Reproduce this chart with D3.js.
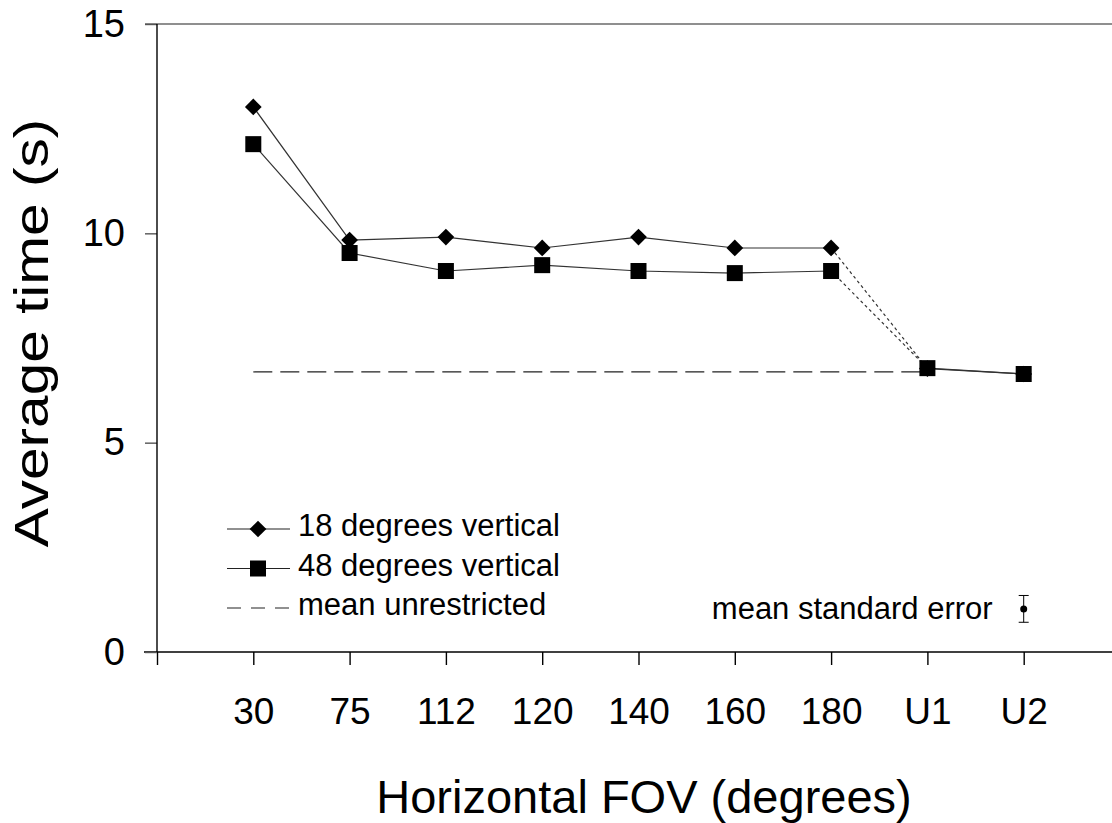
<!DOCTYPE html>
<html>
<head>
<meta charset="utf-8">
<script src="https://cdn.jsdelivr.net/npm/d3@7"></script>
<style>
  body { margin: 0; background: #fff; }
  text { font-family: "Liberation Sans", Arial, sans-serif; fill: #000; }
</style>
</head>
<body>
<div id="chart"></div>
<script>
// Data
const categories = ["30", "75", "112", "120", "140", "160", "180", "U1", "U2"]
const deg18 = [13.02, 9.84, 9.91, 9.65, 9.91, 9.65, 9.65, 6.77, 6.64]
const deg48 = [12.13, 9.53, 9.10, 9.24, 9.10, 9.05, 9.10, 6.78, 6.64]
const meanUnrestricted = 6.69
const yTicks = [0, 5, 10, 15]
const seCenter = 1.03
const seHalf = 0.32
const legendLabels = ["18 degrees vertical", "48 degrees vertical", "mean unrestricted"]

// Dimensions
const width = 1112, height = 823
const svg = d3.select('#chart').append('svg')
  .attr('width', width)
  .attr('height', height)

// Scales (index -1 is the y-axis position)
const xScale = d3.scaleLinear().domain([-1, 9]).range([157, 1120])
const yScale = d3.scaleLinear().domain([0, 15]).range([652, 24])

// top frame line
svg.append('line')
  .attr('x1', xScale(-1) - 12).attr('x2', width)
  .attr('y1', yScale(15)).attr('y2', yScale(15))
  .attr('stroke', '#6a6a6a').attr('stroke-width', 1.6)

// x axis
const xAxis = d3.axisBottom(xScale)
  .tickValues(d3.range(-1, 9))
  .tickSize(13)
  .tickPadding(33)
  .tickFormat(i => categories[i] || '')
const gx = svg.append('g')
  .attr('transform', `translate(0, ${yScale(0)})`)
  .call(xAxis)
gx.select('.domain').remove()
gx.selectAll('.tick line').attr('stroke', '#000').attr('stroke-width', 1.4)
gx.selectAll('.tick text').attr('font-size', 37).attr('fill', '#000')
svg.append('line')
  .attr('x1', xScale(-1) - 13).attr('x2', width)
  .attr('y1', yScale(0)).attr('y2', yScale(0))
  .attr('stroke', '#000').attr('stroke-width', 1.4)

// y axis
const yAxis = d3.axisLeft(yScale)
  .tickValues(yTicks)
  .tickSize(12)
  .tickPadding(20)
const gy = svg.append('g')
  .attr('transform', `translate(${xScale(-1)}, 0)`)
  .call(yAxis)
gy.select('.domain').remove()
gy.selectAll('.tick line').attr('stroke', '#555').attr('stroke-width', 1.4)
gy.selectAll('.tick text').attr('font-size', 38).attr('fill', '#000')
svg.append('line')
  .attr('x1', xScale(-1)).attr('x2', xScale(-1))
  .attr('y1', yScale(15)).attr('y2', yScale(0))
  .attr('stroke', '#000').attr('stroke-width', 1.4)

// axis titles
svg.append('text')
  .attr('x', 644)
  .attr('y', 813)
  .attr('text-anchor', 'middle')
  .attr('font-size', 47)
  .text('Horizontal FOV (degrees)')
svg.append('text')
  .attr('transform', `translate(48, 333) rotate(-90) scale(1.22, 1)`)
  .attr('text-anchor', 'middle')
  .attr('font-size', 48)
  .text('Average time (s)')

// mean unrestricted dashed line
svg.append('line')
  .attr('x1', xScale(0)).attr('x2', xScale(7))
  .attr('y1', yScale(meanUnrestricted)).attr('y2', yScale(meanUnrestricted))
  .attr('stroke', '#222').attr('stroke-width', 1.2)
  .attr('stroke-dasharray', '19,8')

// series lines
const line = d3.line()
  .x((d, i) => xScale(i))
  .y(d => yScale(d))

function drawSeries(values) {
  svg.append('path')
    .datum(values.slice(0, 7))
    .attr('d', line)
    .attr('fill', 'none').attr('stroke', '#333').attr('stroke-width', 1.2)
  // dotted link 180 -> U1
  svg.append('line')
    .attr('x1', xScale(6)).attr('y1', yScale(values[6]))
    .attr('x2', xScale(7)).attr('y2', yScale(values[7]))
    .attr('stroke', '#333').attr('stroke-width', 1.2)
    .attr('stroke-dasharray', '3,3')
  svg.append('line')
    .attr('x1', xScale(7)).attr('y1', yScale(values[7]))
    .attr('x2', xScale(8)).attr('y2', yScale(values[8]))
    .attr('stroke', '#333').attr('stroke-width', 1.2)
}
drawSeries(deg18)
drawSeries(deg48)

const diamond = d3.symbol().type(d3.symbolSquare).size(140)
svg.selectAll('.dia')
  .data(deg18)
  .join('path')
  .attr('class', 'dia')
  .attr('d', diamond)
  .attr('transform', (d, i) => `translate(${xScale(i)}, ${yScale(d)}) rotate(45)`)
  .attr('fill', '#000')

svg.selectAll('.sq')
  .data(deg48)
  .join('rect')
  .attr('class', 'sq')
  .attr('x', (d, i) => xScale(i) - 8)
  .attr('y', d => yScale(d) - 8)
  .attr('width', 16).attr('height', 16)
  .attr('fill', '#000')

// legend
const legend = svg.append('g').attr('transform', 'translate(227, 529)')
const rowGap = 39.5
legendLabels.forEach((lab, i) => {
  const g = legend.append('g').attr('transform', `translate(0, ${i * rowGap})`)
  g.append('line')
    .attr('x1', 0).attr('x2', 63).attr('y1', 0).attr('y2', 0)
    .attr('stroke', '#222').attr('stroke-width', 1.2)
    .attr('stroke-dasharray', i === 2 ? '14,10' : null)
  if (i === 0) {
    g.append('path').attr('d', diamond).attr('transform', 'translate(31,0) rotate(45)')
  } else if (i === 1) {
    g.append('rect').attr('x', 23).attr('y', -8).attr('width', 16).attr('height', 16)
  }
  g.append('text')
    .attr('x', 71).attr('y', 7)
    .attr('font-size', 31)
    .text(lab)
})

// mean standard error bar
const seX = xScale(8)
const se = svg.append('g')
se.append('line')
  .attr('x1', seX).attr('x2', seX)
  .attr('y1', yScale(seCenter + seHalf)).attr('y2', yScale(seCenter - seHalf))
  .attr('stroke', '#000').attr('stroke-width', 1)
;[seCenter + seHalf, seCenter - seHalf].forEach(v => {
  se.append('line')
    .attr('x1', seX - 5).attr('x2', seX + 5)
    .attr('y1', yScale(v)).attr('y2', yScale(v))
    .attr('stroke', '#000').attr('stroke-width', 1)
})
se.append('circle')
  .attr('cx', seX).attr('cy', yScale(seCenter)).attr('r', 3.5).attr('fill', '#000')
svg.append('text')
  .attr('x', seX - 31).attr('y', yScale(seCenter) + 10)
  .attr('text-anchor', 'end')
  .attr('font-size', 31)
  .text('mean standard error')
</script>
</body>
</html>
